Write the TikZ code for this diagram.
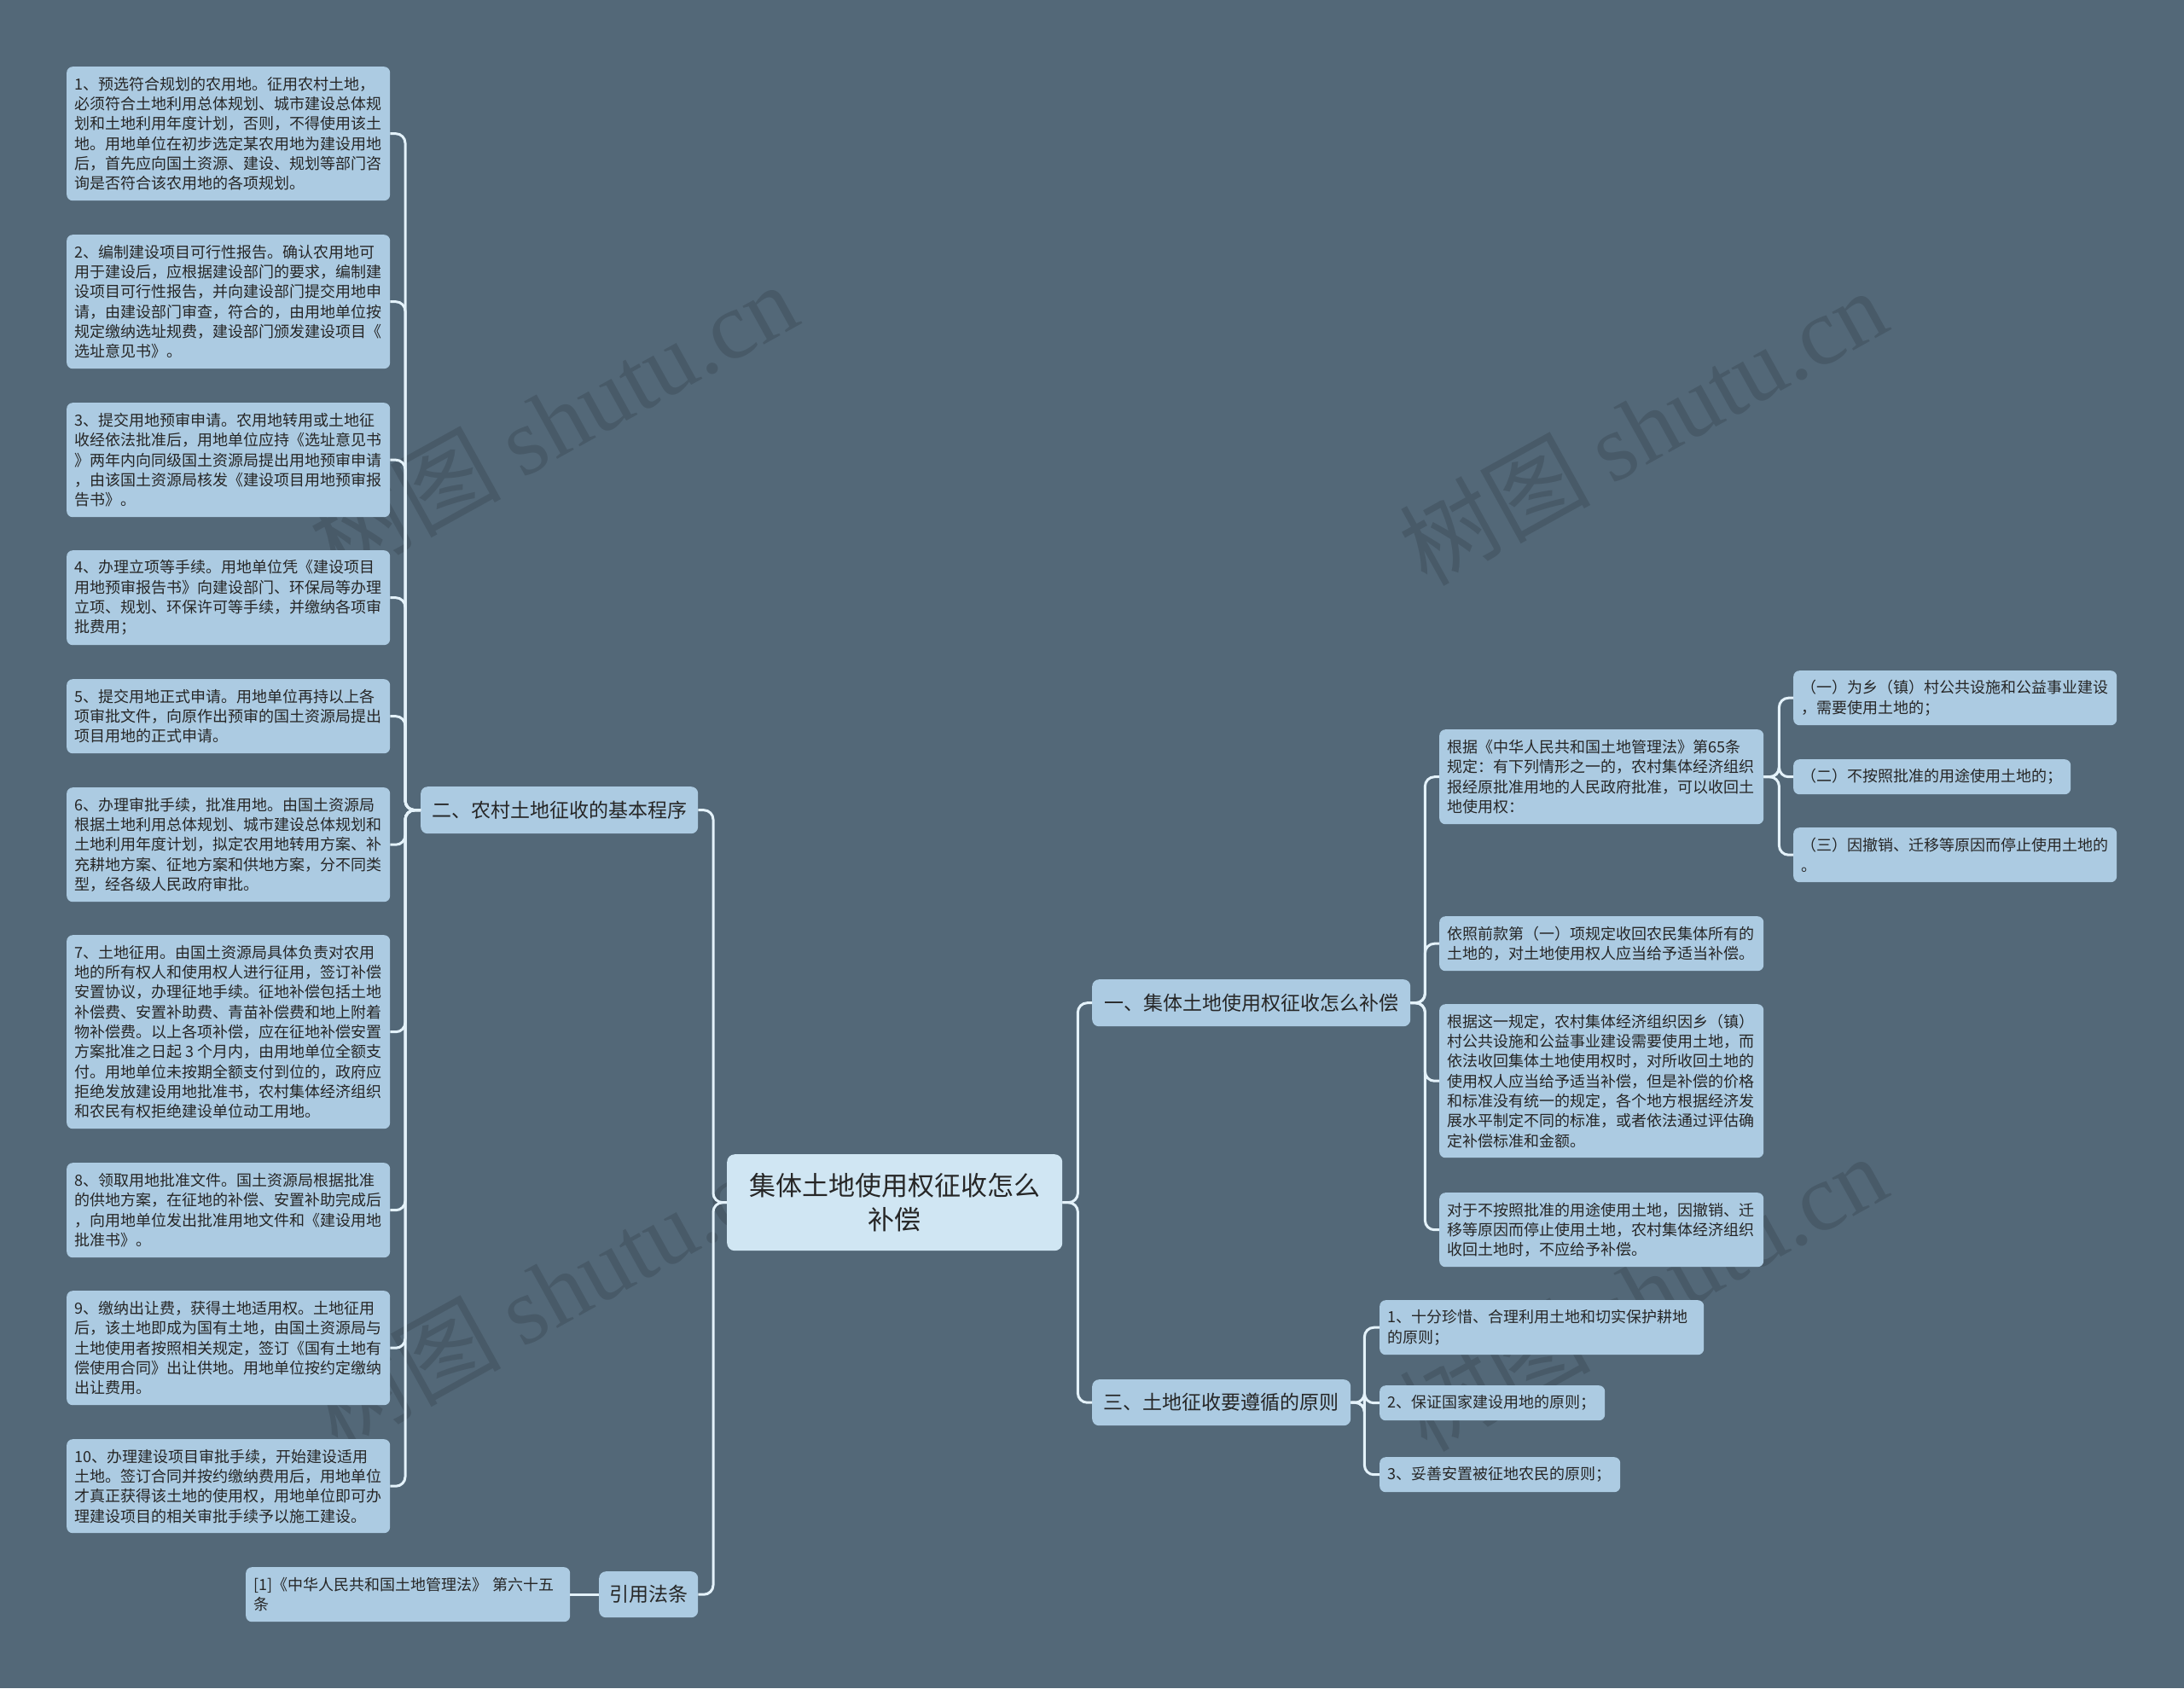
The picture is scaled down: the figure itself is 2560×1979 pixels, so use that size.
\documentclass[tikz,border=0pt]{standalone}
\usepackage{fontspec}
\setmainfont{Noto Sans CJK SC}
\newfontfamily\wmserif{Liberation Serif}
\definecolor{bgc}{RGB}{83,104,120}
\definecolor{boxc}{RGB}{172,203,226}
\definecolor{cenc}{RGB}{208,230,243}
\definecolor{linec}{RGB}{228,242,250}
\definecolor{txt}{RGB}{38,38,38}
\newcommand\myleaf{\fontsize{18}{23.3}\selectfont}
\newcommand\mymid{\fontsize{23}{28}\selectfont}
\newcommand\mycentral{\fontsize{31}{40}\selectfont}
\newcommand\mywm{\fontsize{112}{120}\selectfont}
\begin{document}
\begin{tikzpicture}[x=1pt,y=-1pt,
  leaf/.style={fill=boxc, rounded corners=7, anchor=north west, inner xsep=9, inner ysep=0, align=left, font=\myleaf, text=txt},
  mid/.style={fill=boxc, rounded corners=8, anchor=north west, inner sep=0, align=center, font=\mymid, text=txt},
  cen/.style={fill=cenc, rounded corners=9, anchor=north west, inner sep=0, align=center, font=\mycentral, text=txt},
  conn/.style={draw=linec, line width=3, rounded corners=11},
  wm/.style={text=black, text opacity=0.13, font=\mywm, rotate=29, inner sep=0}
]
\fill[bgc] (0,0) rectangle (2560,1979);
\useasboundingbox (0,0) rectangle (2560,1979);

% watermarks
\node[wm] (wm1) at (648,493) {树图 {\wmserif shutu.cn}};
\node[wm] (wm2) at (1925,500) {树图 {\wmserif shutu.cn}};
\node[wm] (wm3) at (648,1512) {树图 {\wmserif shutu.cn}};
\node[wm] (wm4) at (1925,1515) {树图 {\wmserif shutu.cn}};

% central
\node[cen, minimum width=393, minimum height=113] (c) at (852,1353) {集体土地使用权征收怎么\\补偿};

% main branches
\node[mid, minimum width=325, minimum height=55] (er) at (493,922) {二、农村土地征收的基本程序};
\node[mid, minimum width=116, minimum height=54] (yy) at (702,1842) {引用法条};
\node[mid, minimum width=373, minimum height=55] (yi) at (1280,1148) {一、集体土地使用权征收怎么补偿};
\node[mid, minimum width=303, minimum height=54] (san) at (1280,1617) {三、土地征收要遵循的原则};

% left leaves
\node[leaf, text width=361, minimum height=157] (b1) at (78,78) {1、预选符合规划的农用地。征用农村土地，\\必须符合土地利用总体规划、城市建设总体规\\划和土地利用年度计划，否则，不得使用该土\\地。用地单位在初步选定某农用地为建设用地\\后，首先应向国土资源、建设、规划等部门咨\\询是否符合该农用地的各项规划。};
\node[leaf, text width=361, minimum height=157] (b2) at (78,275) {2、编制建设项目可行性报告。确认农用地可\\用于建设后，应根据建设部门的要求，编制建\\设项目可行性报告，并向建设部门提交用地申\\请，由建设部门审查，符合的，由用地单位按\\规定缴纳选址规费，建设部门颁发建设项目《\\选址意见书》。};
\node[leaf, text width=361, minimum height=134] (b3) at (78,472) {3、提交用地预审申请。农用地转用或土地征\\收经依法批准后，用地单位应持《选址意见书\\》两年内向同级国土资源局提出用地预审申请\\，由该国土资源局核发《建设项目用地预审报\\告书》。};
\node[leaf, text width=361, minimum height=111] (b4) at (78,645) {4、办理立项等手续。用地单位凭《建设项目\\用地预审报告书》向建设部门、环保局等办理\\立项、规划、环保许可等手续，并缴纳各项审\\批费用；};
\node[leaf, text width=361, minimum height=87] (b5) at (78,796) {5、提交用地正式申请。用地单位再持以上各\\项审批文件，向原作出预审的国土资源局提出\\项目用地的正式申请。};
\node[leaf, text width=361, minimum height=134] (b6) at (78,923) {6、办理审批手续，批准用地。由国土资源局\\根据土地利用总体规划、城市建设总体规划和\\土地利用年度计划，拟定农用地转用方案、补\\充耕地方案、征地方案和供地方案，分不同类\\型，经各级人民政府审批。};
\node[leaf, text width=361, minimum height=227] (b7) at (78,1096) {7、土地征用。由国土资源局具体负责对农用\\地的所有权人和使用权人进行征用，签订补偿\\安置协议，办理征地手续。征地补偿包括土地\\补偿费、安置补助费、青苗补偿费和地上附着\\物补偿费。以上各项补偿，应在征地补偿安置\\方案批准之日起\kern4pt 3\kern4pt 个月内，由用地单位全额支\\付。用地单位未按期全额支付到位的，政府应\\拒绝发放建设用地批准书，农村集体经济组织\\和农民有权拒绝建设单位动工用地。};
\node[leaf, text width=361, minimum height=111] (b8) at (78,1363) {8、领取用地批准文件。国土资源局根据批准\\的供地方案，在征地的补偿、安置补助完成后\\，向用地单位发出批准用地文件和《建设用地\\批准书》。};
\node[leaf, text width=361, minimum height=134] (b9) at (78,1513) {9、缴纳出让费，获得土地适用权。土地征用\\后，该土地即成为国有土地，由国土资源局与\\土地使用者按照相关规定，签订《国有土地有\\偿使用合同》出让供地。用地单位按约定缴纳\\出让费用。};
\node[leaf, text width=361, minimum height=110] (b10) at (78,1687) {10、办理建设项目审批手续，开始建设适用\\土地。签订合同并按约缴纳费用后，用地单位\\才真正获得该土地的使用权，用地单位即可办\\理建设项目的相关审批手续予以施工建设。};

\node[leaf, text width=362, minimum height=64] (ref) at (288,1837) {[1]《中华人民共和国土地管理法》\kern6pt 第六十五\\条};

% right leaves
\node[leaf, text width=362, minimum height=111] (r1) at (1687,855) {根据《中华人民共和国土地管理法》第65条\\规定：有下列情形之一的，农村集体经济组织\\报经原批准用地的人民政府批准，可以收回土\\地使用权：};
\node[leaf, text width=362, minimum height=64] (r2) at (1687,1074) {依照前款第（一）项规定收回农民集体所有的\\土地的，对土地使用权人应当给予适当补偿。};
\node[leaf, text width=362, minimum height=180] (r3) at (1687,1177) {根据这一规定，农村集体经济组织因乡（镇）\\村公共设施和公益事业建设需要使用土地，而\\依法收回集体土地使用权时，对所收回土地的\\使用权人应当给予适当补偿，但是补偿的价格\\和标准没有统一的规定，各个地方根据经济发\\展水平制定不同的标准，或者依法通过评估确\\定补偿标准和金额。};
\node[leaf, text width=362, minimum height=87] (r4) at (1687,1398) {对于不按照批准的用途使用土地，因撤销、迁\\移等原因而停止使用土地，农村集体经济组织\\收回土地时，不应给予补偿。};

\node[leaf, text width=361, minimum height=64] (r1a) at (2102,786) {（一）为乡（镇）村公共设施和公益事业建设\\，需要使用土地的；};
\node[leaf, text width=307, minimum height=41] (r1b) at (2102,890) {（二）不按照批准的用途使用土地的；};
\node[leaf, text width=361, minimum height=64] (r1c) at (2102,970) {（三）因撤销、迁移等原因而停止使用土地的\\。};

\node[leaf, text width=362, minimum height=64] (p1) at (1617,1524) {1、十分珍惜、合理利用土地和切实保护耕地\\的原则；};
\node[leaf, text width=246, minimum height=41] (p2) at (1617,1624) {2、保证国家建设用地的原则；};
\node[leaf, text width=264, minimum height=41] (p3) at (1617,1708) {3、妥善安置被征地农民的原则；};

% connectors
\foreach \n in {b1,b2,b3,b4,b5,b6,b7,b8,b9,b10}
  \draw[conn] (er.west) -- ++(-18,0) |- (\n.east);
\draw[conn] (c.west) -- ++(-16,0) |- (er.east);
\draw[conn] (c.west) -- ++(-16,0) |- (yy.east);
\draw[conn] (yy.west) -- (ref.east);
\draw[conn] (c.east) -- ++(18,0) |- (yi.west);
\draw[conn] (c.east) -- ++(18,0) |- (san.west);
\foreach \n in {r1,r2,r3,r4}
  \draw[conn] (yi.east) -- ++(17,0) |- (\n.west);
\foreach \n in {r1a,r1b,r1c}
  \draw[conn] (r1.east) -- ++(18,0) |- (\n.west);
\foreach \n in {p1,p2,p3}
  \draw[conn] (san.east) -- ++(16,0) |- (\n.west);
\end{tikzpicture}
\end{document}
